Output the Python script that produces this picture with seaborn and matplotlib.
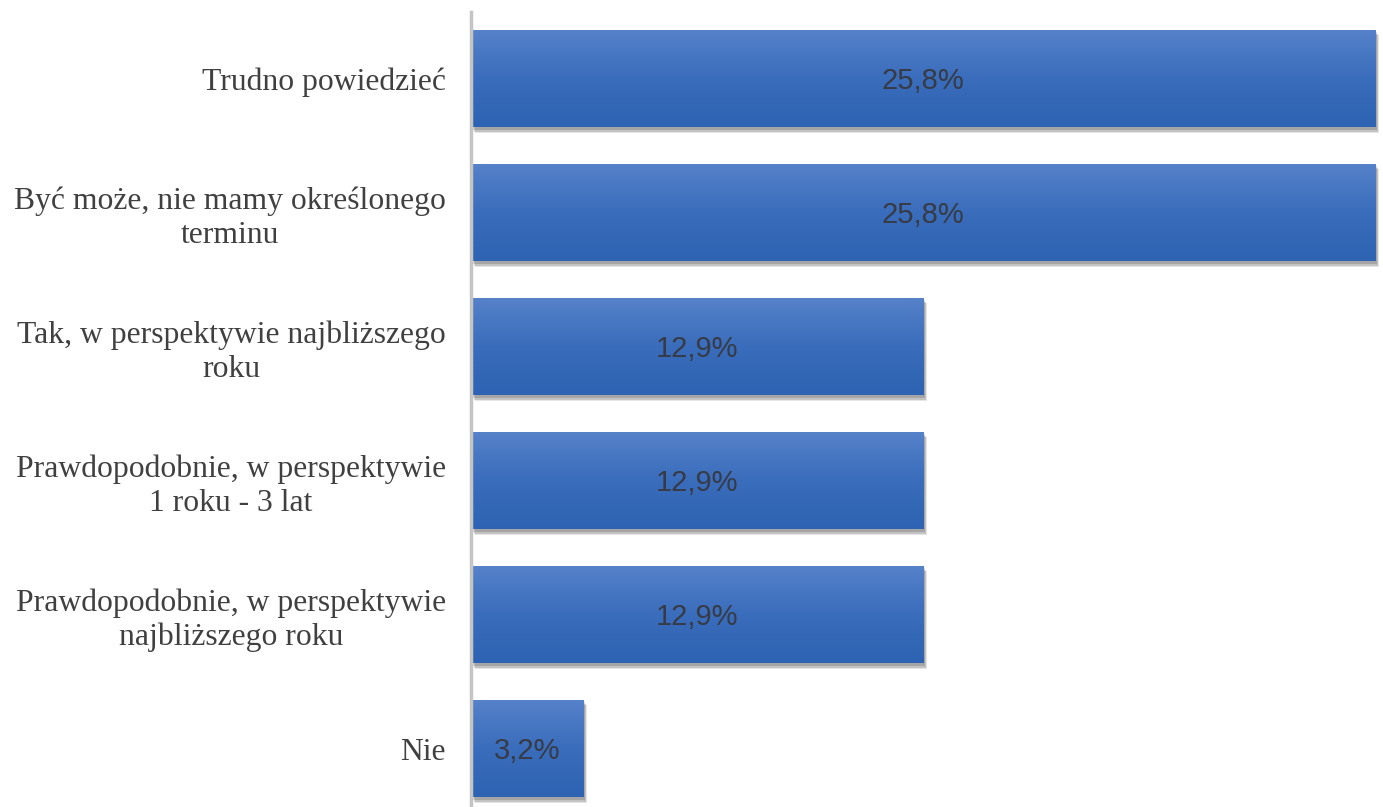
import numpy as np
import pandas as pd
import matplotlib
matplotlib.use("Agg")
import matplotlib.pyplot as plt
import matplotlib.patheffects as pe
import seaborn as sns

categories = [
    "Trudno powiedzieć",
    "Być może, nie mamy określonego\nterminu",
    "Tak, w perspektywie najbliższego\nroku",
    "Prawdopodobnie, w perspektywie\n1 roku - 3 lat",
    "Prawdopodobnie, w perspektywie\nnajbliższego roku",
    "Nie",
]
values = [25.8, 25.8, 12.9, 12.9, 12.9, 3.2]
value_labels = ["25,8%", "25,8%", "12,9%", "12,9%", "12,9%", "3,2%"]

df = pd.DataFrame({"cat": categories, "val": values})

sns.set_theme(style="white")
plt.rcParams["font.family"] = ["Liberation Serif", "DejaVu Serif"]

fig = plt.figure(figsize=(13.83, 8.07), dpi=100)
ax = fig.add_axes([471 / 1383, -8.5 / 807, (1383 - 471) / 1383, (815.5 - 11.5) / 807])

sns.barplot(data=df, x="val", y="cat", orient="h", color="#3D6EBC",
            width=0.73, saturation=1, linewidth=0, ax=ax)

# gradient fill + soft shadow
grad = np.linspace(0, 1, 256).reshape(-1, 1)
cmap = matplotlib.colors.LinearSegmentedColormap.from_list("g", ["#5682C9", "#3A6DBC", "#2D63B2"])
for p in ax.patches:
    p.set_linewidth(0)
    p.set_path_effects([
        pe.SimplePatchShadow(offset=(3, -4), shadow_rgbFace="#000000", alpha=0.10),
        pe.SimplePatchShadow(offset=(2, -3), shadow_rgbFace="#000000", alpha=0.15),
        pe.SimplePatchShadow(offset=(1, -2), shadow_rgbFace="#000000", alpha=0.15),
        pe.Normal()])
    x0, y0 = p.get_x(), p.get_y()
    w, h = p.get_width(), p.get_height()
    im = ax.imshow(grad, extent=(x0, x0 + w, y0 + h, y0), cmap=cmap, aspect="auto",
                   origin="upper", zorder=p.get_zorder() + 0.1)
    im.set_clip_path(p)

ax.set_xlim(0, 25.8 * 1.0085)
ax.set_ylim(5.5, -0.5)

for p, lab in zip(ax.patches, value_labels):
    ax.annotate(lab, (p.get_x() + p.get_width() / 2, p.get_y() + p.get_height() / 2),
                xytext=(0, -2), textcoords="offset points",
                ha="center", va="center", fontsize=21, color="#363b45",
                family=["Liberation Sans", "DejaVu Sans"], zorder=5)

ax.set_xlabel("")
ax.set_ylabel("")
ax.set_xticks([])
ax.tick_params(axis="y", length=0, pad=18, labelsize=22.8)
for lbl in ax.get_yticklabels():
    lbl.set_multialignment("center")
    lbl.set_color("#404040")
    lbl.set_linespacing(1.2)
for s in ["top", "right", "bottom"]:
    ax.spines[s].set_visible(False)
ax.spines["left"].set_color("#c4c4c4")
ax.spines["left"].set_linewidth(2.5)

fig.savefig("out.png", dpi=100)
